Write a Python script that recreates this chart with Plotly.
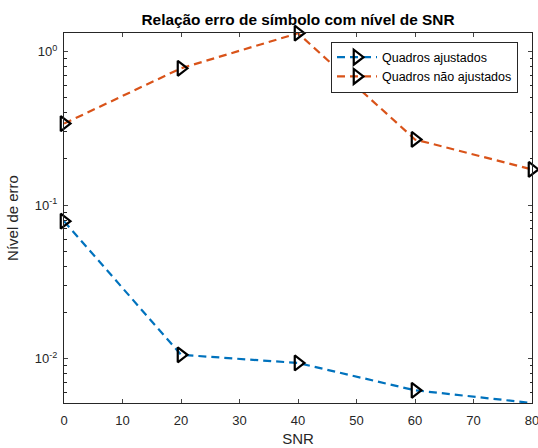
import plotly.graph_objects as go

snr = [0, 20, 40, 60, 80]
ajustados = [0.0787, 0.0106, 0.00937, 0.00622, 0.00514]
nao_ajustados = [0.340, 0.78, 1.32, 0.268, 0.171]

x_ticks = [0, 10, 20, 30, 40, 50, 60, 70, 80]
y_tickvals = [0.01, 0.1, 1]
y_ticktext = ["10<sup>-2</sup>", "10<sup>-1</sup>", "10<sup>0</sup>"]
y_minor = [0.006, 0.007, 0.008, 0.009,
           0.02, 0.03, 0.04, 0.05, 0.06, 0.07, 0.08, 0.09,
           0.2, 0.3, 0.4, 0.5, 0.6, 0.7, 0.8, 0.9]

font = "Liberation Sans, Arial, Helvetica, sans-serif"
axis_col = "#262626"

fig = go.Figure()
for name, vals, col in [("Quadros ajustados", ajustados, "#0072BD"),
                        ("Quadros não ajustados", nao_ajustados, "#D95319")]:
    fig.add_trace(go.Scatter(
        x=snr, y=vals, name=name, mode="lines+markers",
        line=dict(color=col, width=2.2, dash="8px,5px"),
        marker=dict(symbol="triangle-right", size=13, color="rgba(0,0,0,0)",
                    line=dict(color="black", width=2.2)),
        cliponaxis=False,
    ))

fig.update_layout(
    width=538, height=448,
    margin=dict(l=64, r=6, t=33, b=45, autoexpand=False),
    paper_bgcolor="white", plot_bgcolor="white",
    font=dict(family=font, size=13, color=axis_col),
    title=dict(text="<b>Relação erro de símbolo com nível de SNR</b>",
               x=0.5, xanchor="center", y=1 - 20 / 448, yanchor="middle",
               xref="paper", font=dict(size=15.4, color="black")),
    legend=dict(x=0.5705, y=0.977, xanchor="left", yanchor="top",
                bgcolor="white", bordercolor=axis_col, borderwidth=1,
                font=dict(size=12.5, color="black"),
                tracegroupgap=0, itemwidth=40),
    showlegend=True,
)

fig.update_xaxes(
    range=[0, 80], tickvals=x_ticks, ticks="inside", ticklen=4,
    showline=True, linecolor=axis_col, linewidth=1, mirror="ticks",
    showgrid=False, zeroline=False, ticklabeloverflow="allow",
    ticklabelstandoff=5,
    title=dict(text="SNR", font=dict(size=15, color=axis_col), standoff=6),
    tickfont=dict(size=13, color=axis_col),
)
fig.update_yaxes(
    type="log", range=[-2.289, 0.122],
    tickmode="array", tickvals=y_tickvals, ticktext=y_ticktext,
    ticks="inside", ticklen=4, ticklabelstandoff=3,
    minor=dict(tickmode="array", tickvals=y_minor, ticks="inside",
               ticklen=2.5, tickcolor=axis_col, showgrid=False),
    showline=True, linecolor=axis_col, linewidth=1, mirror="ticks",
    showgrid=False, zeroline=False,
    title=dict(text="Nível de erro", font=dict(size=15, color=axis_col), standoff=12),
    tickfont=dict(size=13, color=axis_col),
)

fig.write_html("out.html", config={"displayModeBar": False},
               post_script="document.body.style.margin='0';document.body.style.overflow='hidden';")
